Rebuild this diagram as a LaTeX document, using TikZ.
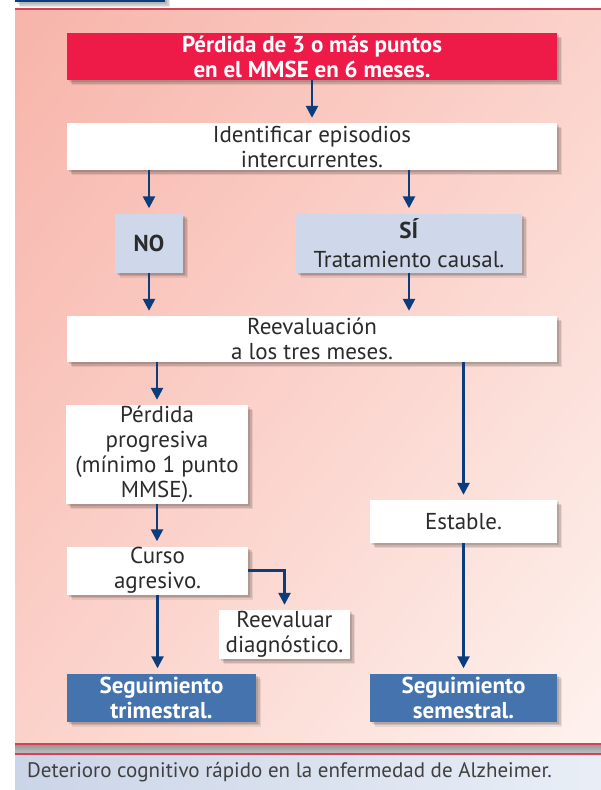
\documentclass[tikz,border=0pt]{standalone}
\usepackage{fontspec}
\setmainfont{PT Sans}
\usepackage{tikz}
\usetikzlibrary{arrows.meta,shadows,shadings}
\definecolor{boxred}{HTML}{EE1B48}
\definecolor{boxgrey}{HTML}{CED8EA}
\definecolor{boxblue}{HTML}{4473AD}
\definecolor{arrowblue}{HTML}{0B3D7C}
\definecolor{textgrey}{HTML}{2B2B2B}
\definecolor{linered}{HTML}{D34357}
\definecolor{pinkA}{HTML}{F7B4AA}
\definecolor{pinkB}{HTML}{FBD2CA}
\definecolor{pinkC}{HTML}{FEF2EE}
\definecolor{capA}{HTML}{CBD5E8}
\definecolor{capB}{HTML}{E9EEF6}

\begin{document}
\begin{tikzpicture}[x=1pt,y=-1pt,
    every node/.style={font=\fontsize{23}{25}\selectfont, text=textgrey, align=center, inner sep=0pt},
    softshadow/.style={general shadow={shadow xshift=2pt, shadow yshift=-2pt, fill=black, opacity=.12},
      general shadow={shadow xshift=3.5pt, shadow yshift=-3.5pt, fill=black, opacity=.12},
      general shadow={shadow xshift=5pt, shadow yshift=-5pt, fill=black, opacity=.08}},
    box/.style={rectangle, fill=white, softshadow},
    redbox/.style={box, fill=boxred, text=white, font=\fontsize{23}{25}\selectfont\bfseries},
    greybox/.style={box, fill=boxgrey},
    bluebox/.style={box, fill=boxblue, text=white, font=\fontsize{23}{25}\selectfont\bfseries},
    arr/.style={draw=arrowblue, line width=2.5pt, -{Triangle[width=12pt,length=12pt]}, shorten >=5pt}]
  \useasboundingbox (0,0) rectangle (601,790);
  \shade[upper left=pinkA, upper right=pinkB, lower left=pinkB, lower right=pinkC] (15,9) rectangle (601,744);
  \draw[draw=linered, line width=1.5pt] (15,9) -- (601,9);
  \fill[fill=arrowblue, softshadow] (15,-20) rectangle (165,2);
  \shade[top color=gray!85, bottom color=gray!45] (15,744) rectangle (601,754);
  \draw[draw=linered, line width=1.5pt] (15,744) -- (601,744);
  \shade[left color=capA, right color=capB] (15,754) rectangle (601,790);
  \draw[draw=linered, line width=1.5pt] (15,754) -- (601,754);

  \node[redbox, minimum width=490pt, minimum height=47pt] (P) at (312,56.5) {P\'erdida de 3 o m\'as puntos\\en el MMSE en 6 meses.};
  \node[box, minimum width=490pt, minimum height=47pt] (I) at (312,146.5) {Identificar episodios\\intercurrentes.};
  \node[greybox, minimum width=68pt, minimum height=59pt, font=\fontsize{23}{25}\selectfont\bfseries] (NO) at (149,243) {NO};
  \node[greybox, minimum width=226pt, minimum height=59pt] (SI) at (409,243) {\textbf{S\'I}\\[4pt]Tratamiento causal.};
  \node[box, minimum width=490pt, minimum height=46pt] (R) at (312,339) {Reevaluaci\'on\\a los tres meses.};
  \node[box, minimum width=182pt, minimum height=99pt] (PP) at (157,454.5) {P\'erdida\\progresiva\\(m\'inimo 1 punto\\MMSE).};
  \node[box, minimum width=181pt, minimum height=48pt] (CA) at (157.5,570.5) {Curso\\agresivo.};
  \node[box, minimum width=131pt, minimum height=49pt] (RD) at (284.5,634.5) {Reevaluar\\diagn\'ostico.};
  \node[bluebox, minimum width=189pt, minimum height=48pt] (ST) at (161.5,697.5) {Seguimiento\\trimestral.};
  \node[box, minimum width=187pt, minimum height=43pt] (E) at (463.5,521.5) {Estable.};
  \node[bluebox, minimum width=187pt, minimum height=48pt] (SS) at (463.5,697.5) {Seguimiento\\semestral.};
  \node[anchor=west, text=textgrey!90, font=\fontsize{21}{24}\selectfont] (CAP) at (27,772) {Deterioro cognitivo r\'apido en la enfermedad de Alzheimer.};

  \draw[arr] (P) -- (I);
  \draw[arr] (NO |- I.south) -- (NO);
  \draw[arr] (SI |- I.south) -- (SI);
  \draw[arr] (NO) -- (NO |- R.north);
  \draw[arr] (SI) -- (SI |- R.north);
  \draw[arr] (PP |- R.south) -- (PP);
  \draw[arr] (E |- R.south) -- (E);
  \draw[arr] (PP) -- (PP |- CA.north);
  \draw[arr] (CA) -- (CA |- ST.north);
  \draw[arr] (CA.east) -| (RD);
  \draw[arr] (E) -- (SS);
\end{tikzpicture}
\end{document}
